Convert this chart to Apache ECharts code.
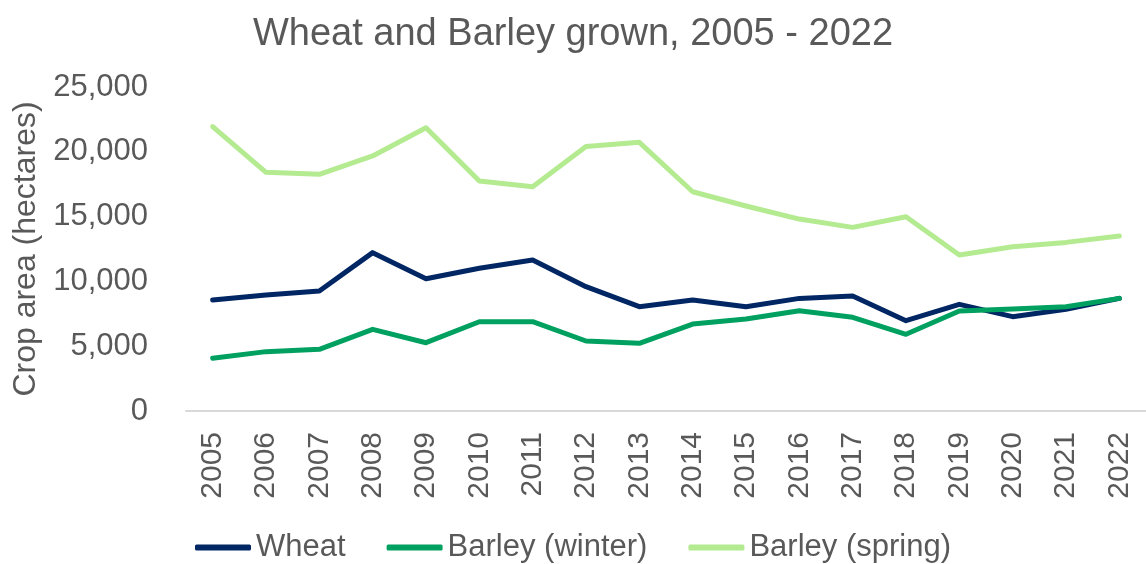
<!DOCTYPE html>
<html>
<head>
<meta charset="utf-8">
<title>Wheat and Barley grown</title>
<script src="https://cdn.jsdelivr.net/npm/echarts@6/dist/echarts.min.js"></script>
<style>
    html, body { margin: 0; padding: 0; background: #fff; }
    #main { width: 1146px; height: 564px; }
</style>
</head>
<body>
<div id="main"></div>
<script>
// years on the x axis
var years = ["2005", "2006", "2007", "2008", "2009", "2010", "2011", "2012", "2013",
    "2014", "2015", "2016", "2017", "2018", "2019", "2020", "2021", "2022"];

// crop area in hectares
var wheat = [8560, 8950, 9260, 12220, 10210, 11010, 11650, 9590, 8050,
    8560, 8050, 8690, 8870, 6970, 8230, 7280, 7850, 8690];
var barleyWinter = [4070, 4580, 4760, 6300, 5270, 6890, 6890, 5400, 5220,
    6710, 7100, 7740, 7230, 5920, 7720, 7870, 8050, 8690];
var barleySpring = [21940, 18420, 18260, 19680, 21860, 17750, 17310, 20400, 20730,
    16920, 15820, 14810, 14170, 14990, 12040, 12680, 13010, 13500];

var seriesNames = ["Wheat", "Barley (winter)", "Barley (spring)"];
var seriesColors = ["#002663", "#00A160", "#B4EB91"];

var textColor = "#595959";
var fontName = "Liberation Sans, Arial, sans-serif";

var mycharts = echarts.init(document.getElementById("main"));

function lineSeries(name, data, color) {
    return {
        name: name,
        type: "line",
        data: data,
        showSymbol: false,
        symbol: "none",
        itemStyle: { color: color },
        lineStyle: { color: color, width: 5, cap: "round", join: "round" }
    };
}

var option = {
    animation: false,
    textStyle: { fontFamily: fontName, color: textColor },
    title: {
        text: "Wheat and Barley grown, 2005 - 2022",
        left: "center",
        top: 11,
        textStyle: { fontFamily: fontName, color: textColor, fontSize: 38, fontWeight: "normal" }
    },
    legend: {
        data: seriesNames,
        left: "center",
        top: 527,
        icon: "roundRect",
        itemWidth: 56,
        itemHeight: 6,
        itemGap: 41,
        textStyle: { fontFamily: fontName, color: textColor, fontSize: 31 }
    },
    grid: { left: 186, right: 0, top: 87, bottom: 153 },
    xAxis: {
        type: "category",
        data: years,
        boundaryGap: true,
        axisLine: { lineStyle: { color: "#D9D9D9", width: 2 } },
        axisTick: { show: false },
        axisLabel: { rotate: 90, margin: 21, fontSize: 30, color: textColor, fontFamily: fontName }
    },
    yAxis: {
        type: "value",
        min: 0,
        max: 25000,
        interval: 5000,
        name: "Crop area (hectares)",
        nameLocation: "middle",
        nameGap: 142,
        nameTextStyle: { fontSize: 32, color: textColor, fontFamily: fontName },
        axisLine: { show: false },
        axisTick: { show: false },
        splitLine: { show: false },
        axisLabel: {
            margin: 38,
            fontSize: 31,
            color: textColor,
            fontFamily: fontName,
            formatter: function (v) { return v.toLocaleString("en-GB"); }
        }
    },
    series: [
        lineSeries(seriesNames[0], wheat, seriesColors[0]),
        lineSeries(seriesNames[1], barleyWinter, seriesColors[1]),
        lineSeries(seriesNames[2], barleySpring, seriesColors[2])
    ]
};

mycharts.setOption(option);
</script>
</body>
</html>
